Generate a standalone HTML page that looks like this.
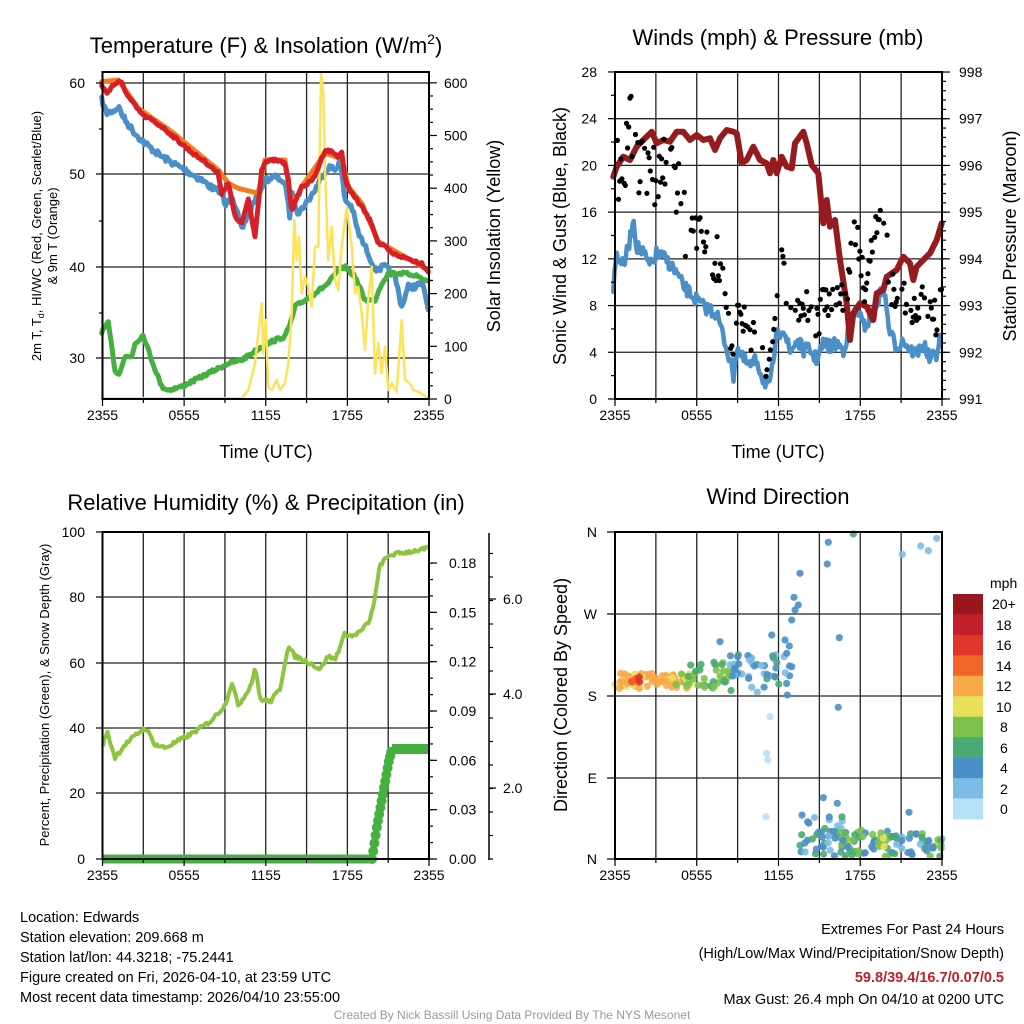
<!DOCTYPE html>
<html><head><meta charset="utf-8"><style>
html,body{margin:0;padding:0;background:#fff}
svg{display:block;font-family:"Liberation Sans",Arial,sans-serif}
</style></head><body>
<svg id="s" width="1024" height="1024" viewBox="0 0 1024 1024" xmlns="http://www.w3.org/2000/svg">
<rect width="1024" height="1024" fill="#fff"/>
<g id="grid" stroke="#222" stroke-width="1.3" fill="none"></g>
<g id="data"></g>
<g id="frames" stroke="#000" stroke-width="2" fill="none">
<rect x="102.5" y="72" width="326.5" height="327"/>
<rect x="615" y="72" width="327" height="327"/>
<rect x="102.5" y="532" width="326.5" height="327"/>
<rect x="615" y="532" width="327" height="327"/>
<line x1="489" y1="533" x2="489" y2="860" stroke-width="1.5"/>
</g>
<g id="ticks" stroke="#000" stroke-width="1.2"></g>
<g font-size="22" text-anchor="middle" fill="#000">
<text x="266" y="53">Temperature (F) &amp; Insolation (W/m<tspan font-size="14" dy="-9">2</tspan><tspan dy="9">)</tspan></text>
<text x="778" y="45">Winds (mph) &amp; Pressure (mb)</text>
<text x="266" y="510">Relative Humidity (%) &amp; Precipitation (in)</text>
<text x="778" y="504">Wind Direction</text>
</g>
<g font-size="18" text-anchor="middle">
<text x="266" y="458">Time (UTC)</text>
<text x="778" y="458">Time (UTC)</text>
<text transform="translate(500,236) rotate(-90)">Solar Insolation (Yellow)</text>
<text transform="translate(566,236) rotate(-90)">Sonic Wind &amp; Gust (Blue, Black)</text>
<text transform="translate(1016,236) rotate(-90)">Station Pressure (Maroon)</text>
<text transform="translate(567,695) rotate(-90)">Direction (Colored By Speed)</text>
</g>
<g font-size="13" text-anchor="middle">
<text transform="translate(41,236) rotate(-90)">2m T, T<tspan font-size="9" dy="3">d</tspan><tspan dy="-3">, HI/WC (Red, Green, Scarlet/Blue)</tspan></text>
<text transform="translate(57,236) rotate(-90)">&amp; 9m T (Orange)</text>
<text transform="translate(49,695) rotate(-90)">Percent, Precipitation (Green), &amp; Snow Depth (Gray)</text>
</g>
<g id="labels" font-size="14"></g>
<g font-size="14.5">
<text x="20" y="922">Location: Edwards</text>
<text x="20" y="942">Station elevation: 209.668 m</text>
<text x="20" y="962">Station lat/lon: 44.3218; -75.2441</text>
<text x="20" y="982">Figure created on Fri, 2026-04-10, at 23:59 UTC</text>
<text x="20" y="1002">Most recent data timestamp: 2026/04/10 23:55:00</text>
<g text-anchor="end">
<text x="1004" y="934">Extremes For Past 24 Hours</text>
<text x="1004" y="958">(High/Low/Max Wind/Precipitation/Snow Depth)</text>
<text x="1004" y="982" fill="#c1202a" font-weight="bold">59.8/39.4/16.7/0.07/0.5</text>
<text x="1004" y="1004">Max Gust: 26.4 mph On 04/10 at 0200 UTC</text>
</g>
<text x="512" y="1019" font-size="12" fill="#999" text-anchor="middle">Created By Nick Bassill Using Data Provided By The NYS Mesonet</text>
</g>
<g id="cbar"></g>
<g font-size="14"><text x="990" y="588">mph</text>
<text x="992" y="609">20+</text><text x="996" y="630">18</text><text x="996" y="650">16</text><text x="996" y="671">14</text><text x="996" y="691">12</text><text x="996" y="712">10</text><text x="1000" y="732">8</text><text x="1000" y="753">6</text><text x="1000" y="773">4</text><text x="1000" y="794">2</text><text x="1000" y="814">0</text></g>
</svg>
<script>
var NS="http://www.w3.org/2000/svg";
function el(p,t,a){var e=document.createElementNS(NS,t);for(var k in a)e.setAttribute(k,a[k]);p.appendChild(e);return e;}
var grid=document.getElementById('grid'),data=document.getElementById('data'),ticks=document.getElementById('ticks'),labels=document.getElementById('labels');
function line(p,x1,y1,x2,y2,a){a=a||{};a.x1=x1;a.y1=y1;a.x2=x2;a.y2=y2;return el(p,'line',a);}
function txt(x,y,s,anc){var t=el(labels,'text',{x:x,y:y,'text-anchor':anc||'start'});t.textContent=s;}
[[102.5,429,72,399],[615,942,72,399],[102.5,429,532,859],[615,942,532,859]].forEach(function(b){
 for(var i=1;i<8;i++){var x=b[0]+(b[1]-b[0])*i/8;line(grid,x,b[2],x,b[3]);}
});
[83,174,267,358].forEach(function(y){line(grid,102.5,y,429,y);});
for(var v=4;v<28;v+=4){var y=399-v*11.68;line(grid,615,y,942,y);}
[597,663,728,793].forEach(function(y){line(grid,102.5,y,429,y);});
[614,696,778].forEach(function(y){line(grid,615,y,942,y);});
var xl=['2355','0555','1155','1755','2355'];
[[102.5,429,399],[615,942,399],[102.5,429,859],[615,942,859]].forEach(function(b){
 for(var i=0;i<=8;i++){var x=b[0]+(b[1]-b[0])*i/8;line(ticks,x,b[2],x,b[2]+(i%2?4:7));}
 for(var i=0;i<5;i++){txt(b[0]+(b[1]-b[0])*i/4,b[2]+21,xl[i],'middle');}
});
[[60,83],[50,174],[40,267],[30,358]].forEach(function(a){line(ticks,96,a[1],102,a[1]);txt(85,a[1]+5,a[0],'end');});
[129,221,313].forEach(function(y){line(ticks,99,y,102,y);});
for(var v=0;v<=600;v+=100){var y=399-v*0.527;line(ticks,429,y,437,y);txt(444,y+5,v);}
for(var v=25;v<600;v+=25){if(v%100){var y=399-v*0.527;line(ticks,429,y,433,y);}}
for(var v=0;v<=28;v+=4){var y=399-v*11.68;line(ticks,608,y,615,y);txt(597,y+5,v,'end');}
for(var v=2;v<28;v+=4){var y=399-v*11.68;line(ticks,611,y,615,y);}
for(var i=0;i<=7;i++){var y=399-i*46.71;line(ticks,942,y,950,y);txt(959,y+5,991+i);}
for(var i=0;i<35;i++){var y=399-i*9.342;line(ticks,942,y,946,y);}
[[100,532],[80,597],[60,663],[40,728],[20,793],[0,859]].forEach(function(a){line(ticks,96,a[1],102,a[1]);txt(85,a[1]+5,a[0],'end');});
for(var i=0;i<=6;i++){var y=859-i*49.33;line(ticks,429,y,437,y);txt(449,y+5,(i*0.03).toFixed(2));}
for(var i=0;i<19;i++){var y=859-i*16.44;line(ticks,429,y,433,y);}
[[2,788],[4,694],[6,599]].forEach(function(a){line(ticks,489,a[1],496,a[1]);txt(503,a[1]+5,a[0].toFixed(1));});
for(var i=0;i<15;i++){var y=859-i*23.5;if(y>533)line(ticks,489,y,493,y);}
[['N',532],['W',614],['S',696],['E',778],['N',859]].forEach(function(a){line(ticks,607,a[1],615,a[1]);txt(597,a[1]+5,a[0],'end');});
var cc=['#99171c','#c1202a','#e0352b','#f26529','#f8a948','#e9e05a','#7cc24a','#4aab72','#4a8fc8','#7cbbe6','#b6e2f8'];
var cb=document.getElementById('cbar');
cc.forEach(function(c,i){el(cb,'rect',{x:953,y:594+i*20.45,width:30,height:20.9,fill:c});});
var seed=7;function R(){seed=(seed*16807)%2147483647;return (seed-1)/2147483646;}
function interp(pts,x){for(var i=1;i<pts.length;i++){if(x<=pts[i][0]){var a=pts[i-1],b=pts[i];return a[1]+(b[1]-a[1])*(x-a[0])/(b[0]-a[0]);}}return pts[pts.length-1][1];}
function poly(pts,ox,oy,col,w,noise,step){var s='';var x0=pts[0][0],x1=pts[pts.length-1][0];
 if(noise){for(var x=x0;x<=x1;x+=step){var y=interp(pts,x)+(R()-0.5)*noise;s+=(ox+x/3).toFixed(1)+','+(oy+y/3).toFixed(1)+' ';}}
 else pts.forEach(function(p){s+=(ox+p[0]/3).toFixed(1)+','+(oy+p[1]/3).toFixed(1)+' ';});
 el(data,'polyline',{points:s,fill:'none',stroke:col,'stroke-width':w,'stroke-linejoin':'round','stroke-linecap':'round'});}
var yel=[[20,1015],[440,1015],[460,990],[480,910],[500,730],[505,880],[512,780],[520,980],[530,990],[545,960],[555,990],[570,970],[580,910],[590,760],[598,480],[605,600],[612,530],[620,700],[630,650],[640,680],[650,740],[660,560],[670,560],[678,40],[685,100],[690,330],[700,600],[710,500],[720,660],[730,690],[740,560],[755,440],[770,560],[780,700],[790,680],[800,760],[810,870],[820,720],[830,620],[840,940],[850,850],[860,940],[870,860],[880,990],[890,970],[905,995],[920,780],[930,960],[945,970],[955,990],[970,995],[1000,1015]];
var grn=[[20,815],[40,790],[60,930],[70,945],[90,890],[110,890],[120,850],[145,825],[170,900],[200,980],[220,990],[260,980],[300,960],[340,940],[400,910],[440,900],[470,880],[500,860],[540,840],[570,830],[590,780],[600,740],[630,720],[660,700],[700,670],[730,630],[750,620],[780,650],[810,720],[840,720],[860,670],[880,640],[920,640],[960,645],[1000,665]];
var org=[[20,65],[70,60],[130,145],[230,215],[370,330],[400,370],[430,385],[490,400],[510,300],[570,300],[590,440],[620,380],[690,280],[740,295],[760,380],[800,430],[850,545],[1000,630]];
var red=[[20,75],[35,100],[50,80],[70,65],[80,70],[100,110],[130,150],[150,170],[170,180],[200,200],[230,225],[270,260],[300,285],[330,305],[370,340],[380,400],[400,370],[420,470],[440,490],[460,420],[480,530],[490,430],[500,330],[510,305],[540,300],[570,310],[580,360],[590,450],[600,430],[620,380],[640,370],[660,350],[670,320],[690,270],[710,275],[730,290],[740,275],[750,360],[770,400],[800,440],[830,490],[850,550],[870,560],[890,580],[920,590],[950,600],[980,610],[1000,635]];
var blu=[[20,120],[35,160],[60,150],[70,140],[90,180],[120,220],[150,250],[200,290],[270,330],[320,360],[360,390],[380,390],[390,440],[410,400],[440,510],[460,460],[490,400],[510,360],[540,350],[560,360],[575,390],[585,480],[590,400],[610,460],[640,420],[660,390],[680,350],[700,320],[720,330],[735,300],[750,420],[770,440],[790,520],[820,580],[840,630],[870,620],[900,650],[920,740],[940,680],[960,680],[980,670],[990,700],[1000,750]];
poly(blu,95,60,'#4a8fc8',5,18,4);
poly(grn,95,60,'#45b040',5,10,4);
poly(yel,95,60,'#fde35a',2.5);
poly(org,95,60,'#f47c20',5);
poly(red,95,60,'#d62027',5,8,4);
var wb=[[70,680],[80,580],[100,620],[120,540],[130,470],[140,560],[160,580],[180,620],[200,580],[230,600],[260,640],[280,680],[300,700],[320,720],[340,740],[360,750],[380,760],[400,830],[420,900],[430,950],[440,860],[460,900],[480,920],[500,900],[520,960],[540,980],[550,900],[560,830],[580,800],[600,880],[620,840],[640,870],[660,870],[680,900],[700,850],[720,860],[740,850],[760,870],[780,800],[800,740],[820,800],[840,780],[860,730],[880,680],[900,820],[920,860],[940,840],[960,870],[980,880],[1000,850],[1020,900],[1040,880],[1055,820]];
poly(wb,590,60,'#4a8fc8',4.5,40,3.4);
var pr=[[70,350],[80,320],[100,290],[120,300],[140,260],[160,240],[185,215],[200,250],[220,240],[240,245],[260,215],[280,215],[300,240],[320,225],[340,240],[360,235],[375,270],[390,235],[410,210],[430,215],[440,220],[455,310],[470,300],[490,260],[500,280],[510,300],[530,310],[540,340],[550,300],[560,340],[575,290],[590,320],[605,325],[615,250],[640,215],[650,250],[665,315],[685,340],[700,490],[710,420],[720,500],[735,480],[750,600],[770,730],[780,840],[790,760],[810,730],[830,740],[850,780],[860,700],[880,690],[890,650],[920,630],[940,590],[960,610],[970,660],[980,620],[1000,600],[1020,580],[1040,540],[1055,490]];
poly(pr,590,60,'#961b1e',6);
for(var x=72;x<=1055;x+=3.4){var yb=interp(wb,x);var v=(1017-yb)/35.07;var g=v*(1.25+R()*0.55)+R()*2.5;if(g>26.5)g=26.5-R()*3;if(R()<0.35)continue;var yy=1017-g*35.07;el(data,'circle',{cx:(590+x/3).toFixed(1),cy:(60+yy/3).toFixed(1),r:2.6,fill:'#000'});}
var rh=[[103,35],[107,39],[115,31],[125,35],[140,39],[146,40],[155,35],[165,34],[190,38],[210,42],[225,47],[232,54],[238,47],[245,50],[252,54],[255,59],[260,49],[270,48],[280,52],[288,65],[295,62],[310,60],[320,58],[328,62],[335,61],[345,69],[352,68],[362,70],[370,73],[375,80],[380,90],[390,93],[410,94],[429,95]];
var s='';for(var x=103;x<=429;x+=1.5){s+=x+','+(859-3.27*(interp(rh,x)+(R()-0.5)*1.2)).toFixed(1)+' ';}
el(data,'polyline',{points:s,fill:'none',stroke:'#8cc63f','stroke-width':4,'stroke-linejoin':'round'});
el(data,'ellipse',{cx:320,cy:859,rx:9,ry:4,fill:'#bbb'});
line(data,103,859,372,859,{stroke:'#45b040','stroke-width':9});
var pp=[[372,0],[374,0.008],[377,0.02],[380,0.03],[383,0.04],[386,0.05],[389,0.06],[392,0.067],[429,0.067]];
for(var x=372;x<=392;x+=1.2){el(data,'circle',{cx:x,cy:(859-1644*interp(pp,x)).toFixed(1),r:5,fill:'#45b040'});}
line(data,392,749,429,749,{stroke:'#45b040','stroke-width':10});
function dot(x,y,c){el(data,'circle',{cx:(590+x/3).toFixed(1),cy:(520+y/3).toFixed(1),r:3.6,fill:c,'fill-opacity':0.9});}
function cl(x0,x1,y0,y1,n,cols){for(var i=0;i<n;i++){dot(x0+R()*(x1-x0),y0+R()*(y1-y0),cols[Math.floor(R()*cols.length)]);}}
cl(70,300,460,505,60,['#f8a948','#f8a948','#f8a948','#e9e05a']);
cl(100,160,465,495,6,['#f26529','#e0352b']);
cl(250,300,460,500,10,['#e9e05a','#7cc24a']);
cl(290,420,420,505,35,['#7cc24a','#4aab72','#7cc24a']);
cl(420,600,400,520,45,['#4a8fc8','#7cbbe6','#4a8fc8','#4aab72']);
[[390,365],[545,345],[585,360],[598,378],[590,400],[592,525],[605,440],[540,590],[530,700],[533,720],[528,890],[605,300],[615,270],[625,255],[612,232],[630,160],[712,132],[715,67],[790,42],[748,353],[745,562],[937,103],[992,78],[1015,92],[1040,55],[700,833],[742,850],[957,877]].forEach(function(p){dot(p[0],p[1],p[1]>500&&p[1]<900&&p[0]<560?'#b6e2f8':(p[0]==790?'#4aab72':(p[0]>900&&p[1]<200?'#7cbbe6':'#4a8fc8')));});
cl(630,760,880,1010,40,['#4a8fc8','#7cbbe6','#4a8fc8','#4aab72']);
cl(740,900,930,1010,45,['#7cc24a','#4aab72','#4a8fc8','#7cc24a']);
cl(900,1060,940,1010,40,['#4a8fc8','#4a8fc8','#7cbbe6','#4aab72','#7cc24a']);
dot(880,955,'#e9e05a');dot(882,980,'#e9e05a');
</script>
</body></html>
